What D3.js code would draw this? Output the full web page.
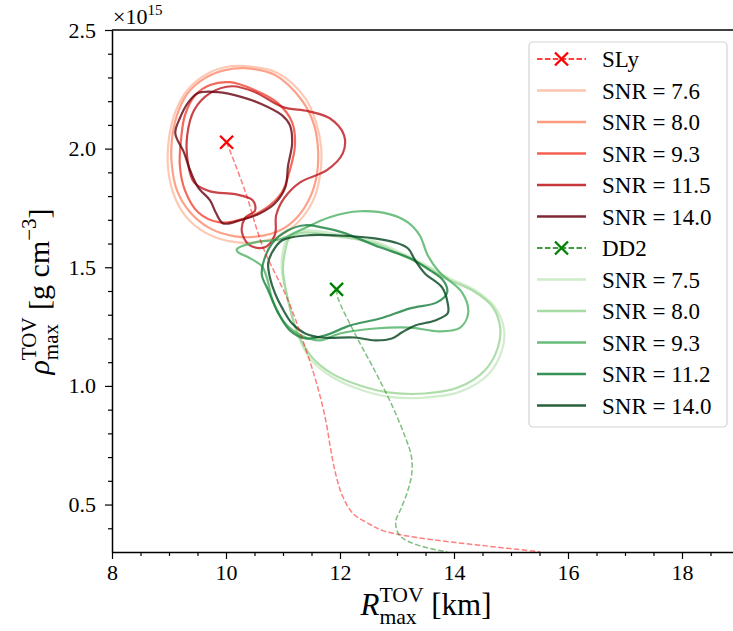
<!DOCTYPE html>
<html>
<head>
<meta charset="utf-8">
<script src="https://cdn.jsdelivr.net/npm/d3@7"></script>
<style>
  body { margin: 0; background: #fff; }
  svg { display: block; }
  svg text { font-family: "Liberation Serif", "Times New Roman", serif; fill: #000; }
</style>
</head>
<body>
<svg id="chart" width="733" height="631"></svg>
<script>
// ---- data (R in km, rho in units of 1e15 g/cm^3) ----
const xTicks = [8, 10, 12, 14, 16, 18];
const yTicks = [0.5, 1.0, 1.5, 2.0, 2.5];

// SLy: TOV sequence (dashed) and 90% contours
const slyCurve = [[10.01, 2.027], [10.33, 1.825], [10.65, 1.584], [11.09, 1.360], [11.39, 1.162], [11.60, 1.002],
  [11.75, 0.855], [11.84, 0.728], [11.93, 0.623], [12.04, 0.538], [12.23, 0.462], [12.53, 0.416],
  [12.75, 0.390], [13.35, 0.361], [14.51, 0.327], [15.51, 0.301]];
const slySnr76 = [[10.33, 2.348], [10.91, 2.318], [11.39, 2.213], [11.58, 2.111], [11.67, 2.002], [11.65, 1.887],
  [11.53, 1.782], [11.26, 1.689], [10.91, 1.630], [10.51, 1.605], [10.07, 1.609], [9.63, 1.647], [9.28, 1.719],
  [9.07, 1.816], [8.98, 1.930], [9.00, 2.044], [9.11, 2.154], [9.32, 2.246], [9.63, 2.310], [9.98, 2.343]];
const slySnr80 = [[10.33, 2.339], [10.86, 2.310], [11.33, 2.204], [11.53, 2.111], [11.61, 2.014], [11.60, 1.900],
  [11.49, 1.803], [11.25, 1.711], [10.95, 1.656], [10.56, 1.630], [10.16, 1.630], [9.72, 1.664], [9.37, 1.732],
  [9.14, 1.824], [9.05, 1.930], [9.05, 2.035], [9.14, 2.141], [9.33, 2.234], [9.63, 2.297], [9.98, 2.331]];
const slySnr93 = [[10.07, 2.280], [10.51, 2.246], [10.91, 2.192], [11.16, 2.111], [11.21, 2.014], [11.12, 1.909],
  [10.98, 1.816], [10.70, 1.749], [10.33, 1.706], [9.89, 1.689], [9.51, 1.732], [9.28, 1.824], [9.19, 1.930],
  [9.21, 2.035], [9.28, 2.141], [9.46, 2.225], [9.72, 2.268]];
const slySnr115 = [[10.11, 2.263], [10.51, 2.238], [11.00, 2.175], [11.44, 2.158], [11.82, 2.128], [12.07, 2.057],
  [12.05, 1.981], [11.77, 1.909], [11.30, 1.858], [11.02, 1.791], [10.88, 1.719], [10.86, 1.639], [10.68, 1.584],
  [10.42, 1.592], [10.28, 1.647], [10.33, 1.706], [10.51, 1.740], [10.47, 1.782], [10.16, 1.808], [9.72, 1.820],
  [9.44, 1.858], [9.33, 1.943], [9.32, 2.057], [9.44, 2.162], [9.72, 2.234]];
const slySnr140 = [[9.11, 2.065], [9.19, 2.128], [9.33, 2.192], [9.51, 2.234], [9.86, 2.238], [10.28, 2.217],
  [10.63, 2.187], [10.98, 2.141], [11.12, 2.099], [11.16, 2.023], [11.09, 1.930], [11.04, 1.837], [10.86, 1.770],
  [10.60, 1.728], [10.25, 1.698], [9.95, 1.685], [9.82, 1.731], [9.72, 1.782], [9.51, 1.837], [9.37, 1.909],
  [9.26, 1.985]];

// DD2: TOV sequence (dashed) and 90% contours
const dd2Curve = [[11.94, 1.407], [11.96, 1.373], [12.26, 1.221], [12.61, 1.064], [12.93, 0.909], [13.14, 0.787],
  [13.25, 0.706], [13.26, 0.631], [13.19, 0.559], [13.07, 0.483], [12.98, 0.432], [13.00, 0.390], [13.09, 0.360],
  [13.35, 0.330], [13.88, 0.300]];
const dd2Snr75 = [[11.00, 1.571], [11.09, 1.630], [11.39, 1.656], [11.96, 1.639], [12.61, 1.609], [13.09, 1.559],
  [13.49, 1.512], [13.93, 1.453], [14.37, 1.403], [14.72, 1.331], [14.88, 1.234], [14.84, 1.149], [14.60, 1.048],
  [14.11, 0.976], [13.49, 0.951], [12.84, 0.955], [12.30, 0.989], [11.82, 1.044], [11.47, 1.115], [11.25, 1.221],
  [11.09, 1.360], [10.98, 1.487]];
const dd2Snr80 = [[11.04, 1.571], [11.12, 1.626], [11.39, 1.647], [11.96, 1.630], [12.61, 1.601], [13.09, 1.550],
  [13.49, 1.504], [13.89, 1.449], [14.32, 1.403], [14.67, 1.335], [14.81, 1.246], [14.77, 1.162], [14.54, 1.065],
  [14.07, 0.993], [13.49, 0.968], [12.88, 0.972], [12.35, 1.002], [11.86, 1.052], [11.51, 1.120], [11.26, 1.221],
  [11.09, 1.360], [11.00, 1.487]];
const dd2Snr93 = [[10.19, 1.576], [10.51, 1.605], [10.95, 1.618], [11.30, 1.656], [11.82, 1.711], [12.35, 1.736],
  [12.88, 1.723], [13.19, 1.689], [13.40, 1.634], [13.54, 1.550], [13.75, 1.478], [14.14, 1.394], [14.25, 1.310],
  [14.11, 1.246], [13.75, 1.230], [13.23, 1.246], [12.61, 1.242], [12.00, 1.221], [11.65, 1.192], [11.35, 1.209],
  [11.04, 1.263], [10.82, 1.360], [10.72, 1.453], [10.63, 1.504], [10.39, 1.542], [10.21, 1.563]];
const dd2Snr112 = [[10.65, 1.516], [10.81, 1.601], [11.09, 1.656], [11.39, 1.677], [11.68, 1.668], [12.04, 1.647],
  [12.70, 1.584], [13.23, 1.538], [13.58, 1.487], [13.81, 1.445], [13.88, 1.394], [13.70, 1.352], [13.23, 1.327],
  [12.70, 1.284], [12.18, 1.255], [11.74, 1.213], [11.39, 1.200], [11.12, 1.234], [10.91, 1.310], [10.74, 1.403],
  [10.63, 1.466]];
const dd2Snr140 = [[10.74, 1.517], [10.81, 1.563], [10.98, 1.613], [11.39, 1.634], [11.96, 1.634], [12.61, 1.622],
  [12.96, 1.605], [13.19, 1.580], [13.32, 1.529], [13.49, 1.474], [13.79, 1.415], [13.89, 1.348], [13.89, 1.306],
  [13.67, 1.276], [13.32, 1.255], [13.09, 1.226], [12.91, 1.200], [12.61, 1.192], [12.26, 1.204], [11.68, 1.204],
  [11.39, 1.221], [11.16, 1.263], [10.98, 1.331], [10.86, 1.390], [10.77, 1.457]];

const slyContours = [slySnr76, slySnr80, slySnr93, slySnr115, slySnr140];
const dd2Contours = [dd2Snr75, dd2Snr80, dd2Snr93, dd2Snr112, dd2Snr140];
const slySnrLabels = ["SNR = 7.6", "SNR = 8.0", "SNR = 9.3", "SNR = 11.5", "SNR = 14.0"];
const dd2SnrLabels = ["SNR = 7.5", "SNR = 8.0", "SNR = 9.3", "SNR = 11.2", "SNR = 14.0"];

// ---- styles ----
const reds = ["#fcbba1", "#fc8a6a", "#f14432", "#bc141a", "#67000d"];
const greens = ["#c7e9c0", "#98d594", "#4bb062", "#157f3b", "#00441b"];

const svg = d3.select("#chart");
const x = d3.scaleLinear().domain([8, 19]).range([112, 739]);
const y = d3.scaleLinear().domain([0.3, 2.5]).range([552, 30]);

svg.append("defs").append("clipPath").attr("id", "plotclip")
  .append("rect").attr("x", x(8)).attr("y", y(2.5))
  .attr("width", x(19) - x(8)).attr("height", y(0.3) - y(2.5));

const plot = svg.append("g").attr("clip-path", "url(#plotclip)");

const closedLine = d3.line().x(d => x(d[0])).y(d => y(d[1]))
  .curve(d3.curveCatmullRomClosed.alpha(0.5));
const openLine = d3.line().x(d => x(d[0])).y(d => y(d[1]))
  .curve(d3.curveCatmullRom.alpha(0.5));

function drawContours(sets, colors) {
  plot.selectAll(null).data(sets).enter().append("path")
    .attr("d", closedLine)
    .attr("fill", "none")
    .attr("stroke", (d, i) => colors[i])
    .attr("stroke-width", 2.2)
    .attr("stroke-opacity", 0.8);
}
drawContours(slyContours, reds);
drawContours(dd2Contours, greens);

// TOV sequences
plot.append("path").datum(slyCurve).attr("d", openLine)
  .attr("fill", "none").attr("stroke", "red").attr("stroke-opacity", 0.5)
  .attr("stroke-width", 1.5).attr("stroke-dasharray", "5.5,2.4");
plot.append("path").datum(dd2Curve).attr("d", openLine)
  .attr("fill", "none").attr("stroke", "green").attr("stroke-opacity", 0.5)
  .attr("stroke-width", 1.5).attr("stroke-dasharray", "5.5,2.4");

const xMark = "M-6.5,-6.5L6.5,6.5M-6.5,6.5L6.5,-6.5";
plot.append("path").attr("d", xMark)
  .attr("transform", `translate(${x(slyCurve[0][0])},${y(slyCurve[0][1])})`)
  .attr("stroke", "red").attr("stroke-width", 2.3).attr("fill", "none");
plot.append("path").attr("d", xMark)
  .attr("transform", `translate(${x(dd2Curve[0][0])},${y(dd2Curve[0][1])})`)
  .attr("stroke", "green").attr("stroke-width", 2.3).attr("fill", "none");

// ---- axes ----
const tickFont = 22;
const isMajor = (v, step) => Math.abs(v / step - Math.round(v / step)) < 1e-6;
svg.append("g").attr("transform", `translate(0,${y(0.3)})`)
  .call(d3.axisBottom(x).tickValues(xTicks).tickFormat(d3.format("d")).tickSize(7).tickSizeOuter(0).tickPadding(5));
svg.append("g").attr("transform", `translate(0,${y(0.3)})`)
  .call(d3.axisBottom(x).tickValues(d3.range(8.5, 19, 0.5).filter(v => !isMajor(v, 2)))
    .tickFormat("").tickSize(4).tickSizeOuter(0))
  .select(".domain").remove();
svg.append("g").attr("transform", `translate(${x(8)},0)`)
  .call(d3.axisLeft(y).tickValues(yTicks).tickFormat(d3.format(".1f")).tickSize(7).tickSizeOuter(0).tickPadding(9));
svg.append("g").attr("transform", `translate(${x(8)},0)`)
  .call(d3.axisLeft(y).tickValues(d3.range(0.4, 2.45, 0.1).filter(v => !isMajor(v, 0.5)))
    .tickFormat("").tickSize(4).tickSizeOuter(0))
  .select(".domain").remove();

svg.selectAll(".tick line").attr("stroke", "#000").attr("stroke-width", 1.2);
svg.selectAll(".tick text").style("font-size", tickFont + "px");
svg.selectAll(".domain").attr("stroke", "#000").attr("stroke-width", 1.5);
// top spine
svg.append("line").attr("x1", x(8)).attr("x2", x(19)).attr("y1", y(2.5)).attr("y2", y(2.5))
  .attr("stroke", "#000").attr("stroke-width", 1.5);

// offset text
const off = svg.append("text").attr("x", 113).attr("y", 24).style("font-size", "22px");
off.append("tspan").text("×10");
off.append("tspan").style("font-size", "15px").attr("dy", -9).text("15");

// ---- axis labels with sup/sub ----
function mathLabel(g, base, sup, sub, tail, size, tailSup) {
  const t = g.append("text").style("font-size", size + "px").attr("text-anchor", "start");
  t.append("tspan").attr("font-style", "italic").text(base);
  const sp = t.append("tspan").style("font-size", size * 0.7 + "px").attr("dy", -size * 0.42).text(sup);
  const supLen = sp.node().getComputedTextLength();
  const sb = t.append("tspan").style("font-size", size * 0.7 + "px").attr("dx", -supLen).attr("dy", size * 0.72).text(sub);
  const subLen = sb.node().getComputedTextLength();
  t.append("tspan").attr("dx", Math.max(0, supLen - subLen) + size * 0.25).attr("dy", -size * 0.30).text(tail[0]);
  if (tailSup) {
    t.append("tspan").style("font-size", size * 0.7 + "px").attr("dy", -size * 0.42).text(tailSup);
    t.append("tspan").attr("dy", size * 0.42).text(tail[1]);
  }
  const bb = t.node().getBBox();
  t.attr("x", -bb.x - bb.width / 2);
  return t;
}
const xl = svg.append("g").attr("transform", `translate(${(x(8) + x(19)) / 2},615)`);
mathLabel(xl, "R", "TOV", "max", ["[km]"], 31);
const yl = svg.append("g").attr("transform", "translate(49,292) rotate(-90)");
mathLabel(yl, "ρ", "TOV", "max", ["[g cm", "]"], 30, "−3");

// ---- legend ----
const leg = svg.append("g");
leg.append("rect").attr("x", 529).attr("y", 42).attr("width", 198).attr("height", 385)
  .attr("rx", 4).attr("fill", "#fff").attr("fill-opacity", 0.8)
  .attr("stroke", "#d3d3d3").attr("stroke-width", 1.2);
const rowY = i => 59 + i * 31.5;
const entries = [];
entries.push({ label: "SLy", color: "red", dashed: true });
slySnrLabels.forEach((l, i) => entries.push({ label: l, color: reds[i] }));
entries.push({ label: "DD2", color: "green", dashed: true });
dd2SnrLabels.forEach((l, i) => entries.push({ label: l, color: greens[i] }));
entries.forEach((e, i) => {
  const yy = rowY(i);
  leg.append("line").attr("x1", 537).attr("x2", 586).attr("y1", yy).attr("y2", yy)
    .attr("stroke", e.color)
    .attr("stroke-width", e.dashed ? 1.5 : 2.6)
    .attr("stroke-opacity", e.dashed ? 1 : 0.85)
    .attr("stroke-dasharray", e.dashed ? "5.5,2.4" : null);
  if (e.dashed) {
    leg.append("path").attr("d", xMark).attr("transform", `translate(561.5,${yy})`)
      .attr("stroke", e.color).attr("stroke-width", 2.3).attr("fill", "none");
  }
  leg.append("text").attr("x", 602).attr("y", yy).attr("dy", "0.35em")
    .style("font-size", "23px").text(e.label);
});
</script>
</body>
</html>
